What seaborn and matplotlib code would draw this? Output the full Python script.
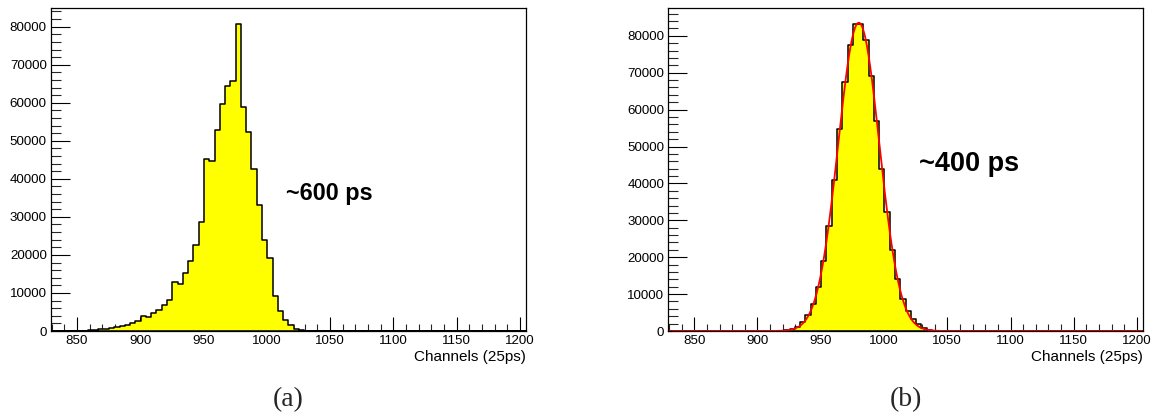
import numpy as np
import pandas as pd
import matplotlib
matplotlib.use("Agg")
import matplotlib.pyplot as plt
from matplotlib.ticker import MultipleLocator, FuncFormatter
import seaborn as sns

# ---------------- data ----------------
x_min, x_max, n_bins = 829.5, 1204.5, 90

counts_a = [20, 30, 40, 60, 70, 90, 120, 200, 300, 420,
            560, 850, 1000, 1300, 1700, 2000, 2700, 4000, 3800, 4700,
            5600, 6900, 8200, 12900, 12400, 15300, 18300, 22500, 28600, 45200,
            44800, 52900, 59600, 64500, 65700, 80800, 59000, 52200, 42600, 33200,
            23800, 19100, 9200, 5200, 2800, 1500, 600, 260, 90, 30,
            0, 0, 0, 0, 0, 0, 0, 0, 0, 0,
            0, 0, 0, 0, 0, 0, 0, 0, 0, 0,
            0, 0, 0, 0, 0, 0, 0, 0, 0, 0,
            0, 0, 0, 0, 0, 0, 0, 0, 0, 0]

counts_b = [0, 0, 0, 0, 0, 0, 0, 0, 0, 0,
            0, 0, 0, 0, 0, 0, 0, 0, 10, 20,
            40, 90, 270, 630, 1200, 2400, 4300, 7200, 12000, 19100,
            28400, 40900, 54800, 67400, 77500, 83200, 83300, 78900, 69000, 56900,
            43800, 32200, 22000, 14000, 8800, 5300, 3200, 1800, 800, 360,
            120, 40, 10, 0, 0, 0, 0, 0, 0, 0,
            0, 0, 0, 0, 0, 0, 0, 0, 0, 0,
            0, 0, 0, 0, 0, 0, 0, 0, 0, 0,
            0, 0, 0, 0, 0, 0, 0, 0, 0, 0]

x_ticks = [850, 900, 950, 1000, 1050, 1100, 1150, 1200]
y_ticks = [0, 10000, 20000, 30000, 40000, 50000, 60000, 70000, 80000]
x_label = "Channels (25ps)"
labels_res = ["~600 ps", "~400 ps"]
panel_tags = ["(a)", "(b)"]

# ---------------- style ----------------
sns.set_style("white")
plt.rcParams["font.family"] = ["Liberation Sans", "DejaVu Sans"]

W, H = 1160, 419
fig = plt.figure(figsize=(W / 100, H / 100), dpi=100)
fig.patch.set_facecolor("white")

edges = np.linspace(x_min, x_max, n_bins + 1)
centers = 0.5 * (edges[:-1] + edges[1:])
df = pd.DataFrame({"ch": centers, "na": counts_a, "nb": counts_b})


def style_axes(ax, ymax):
    ax.set_xlim(x_min, x_max)
    ax.set_ylim(0, ymax)
    ax.set_xticks(x_ticks)
    ax.set_yticks(y_ticks)
    ax.xaxis.set_minor_locator(MultipleLocator(10))
    ax.yaxis.set_minor_locator(MultipleLocator(2000))
    ax.yaxis.set_major_formatter(FuncFormatter(lambda v, p: "%d" % v))
    ax.tick_params(axis="y", which="major", direction="in", length=14, width=0.8,
                   labelsize=9.6, pad=3, left=True, right=False, colors="black")
    ax.tick_params(axis="y", which="minor", direction="in", length=7, width=0.8,
                   left=True, right=False)
    ax.tick_params(axis="x", which="major", direction="in", length=10, width=0.8,
                   labelsize=9.6, pad=3, bottom=True, top=False, colors="black")
    ax.tick_params(axis="x", which="minor", direction="in", length=5, width=0.8,
                   bottom=True, top=False)
    for s in ax.spines.values():
        s.set_visible(True)
        s.set_color("black")
        s.set_linewidth(0.9)
    ax.set_ylabel("")
    ax.set_xlabel("")
    ax.text(1.0, -0.06, x_label, transform=ax.transAxes, ha="right", va="top",
            fontsize=11, color="black")


ax_bottom = 88 / H
ax_height = (331 - 8.3) / H

# ---------- panel (a) ----------
ax1 = fig.add_axes([51 / W, ax_bottom, (525.7 - 51) / W, ax_height])
sns.histplot(data=df, x="ch", weights="na", bins=list(edges), element="step", fill=True,
             color="#ffff00", alpha=1.0, edgecolor="black", linewidth=1.1, ax=ax1)
style_axes(ax1, max(counts_a) * 1.05)
ax1.text(1015, 34500, labels_res[0], fontsize=16.8, fontweight="bold",
         ha="left", va="baseline", color="black")

# ---------- panel (b) ----------
ax2 = fig.add_axes([668.3 / W, ax_bottom, (1142.7 - 668.3) / W, ax_height])
sns.histplot(data=df, x="ch", weights="nb", bins=list(edges), element="step", fill=True,
             color="#ffff00", alpha=1.0, edgecolor="black", linewidth=1.1, ax=ax2)

# Gaussian fit to the histogram (log-quadratic least squares on the core bins)
cb = np.array(counts_b, dtype=float)
sel = cb > 0.05 * cb.max()
coef = np.polyfit(centers[sel], np.log(cb[sel]), 2, w=np.sqrt(cb[sel]))
xfit = np.linspace(x_min, x_max, 800)
yfit = np.exp(np.polyval(coef, xfit))
sns.lineplot(x=xfit, y=yfit, color="red", linewidth=1.3, ax=ax2)
style_axes(ax2, max(counts_b) * 1.05)
ax2.text(1028, 43400, labels_res[1], fontsize=19.5, fontweight="bold",
         ha="left", va="baseline", color="black")

# panel tags
fig.text(288.4 / W, 1 - 400 / H, panel_tags[0], ha="center", va="center",
         fontsize=20, family=["Liberation Serif", "DejaVu Serif"])
fig.text(905.5 / W, 1 - 400 / H, panel_tags[1], ha="center", va="center",
         fontsize=20, family=["Liberation Serif", "DejaVu Serif"])

fig.savefig("out.png", dpi=100, facecolor="white")
